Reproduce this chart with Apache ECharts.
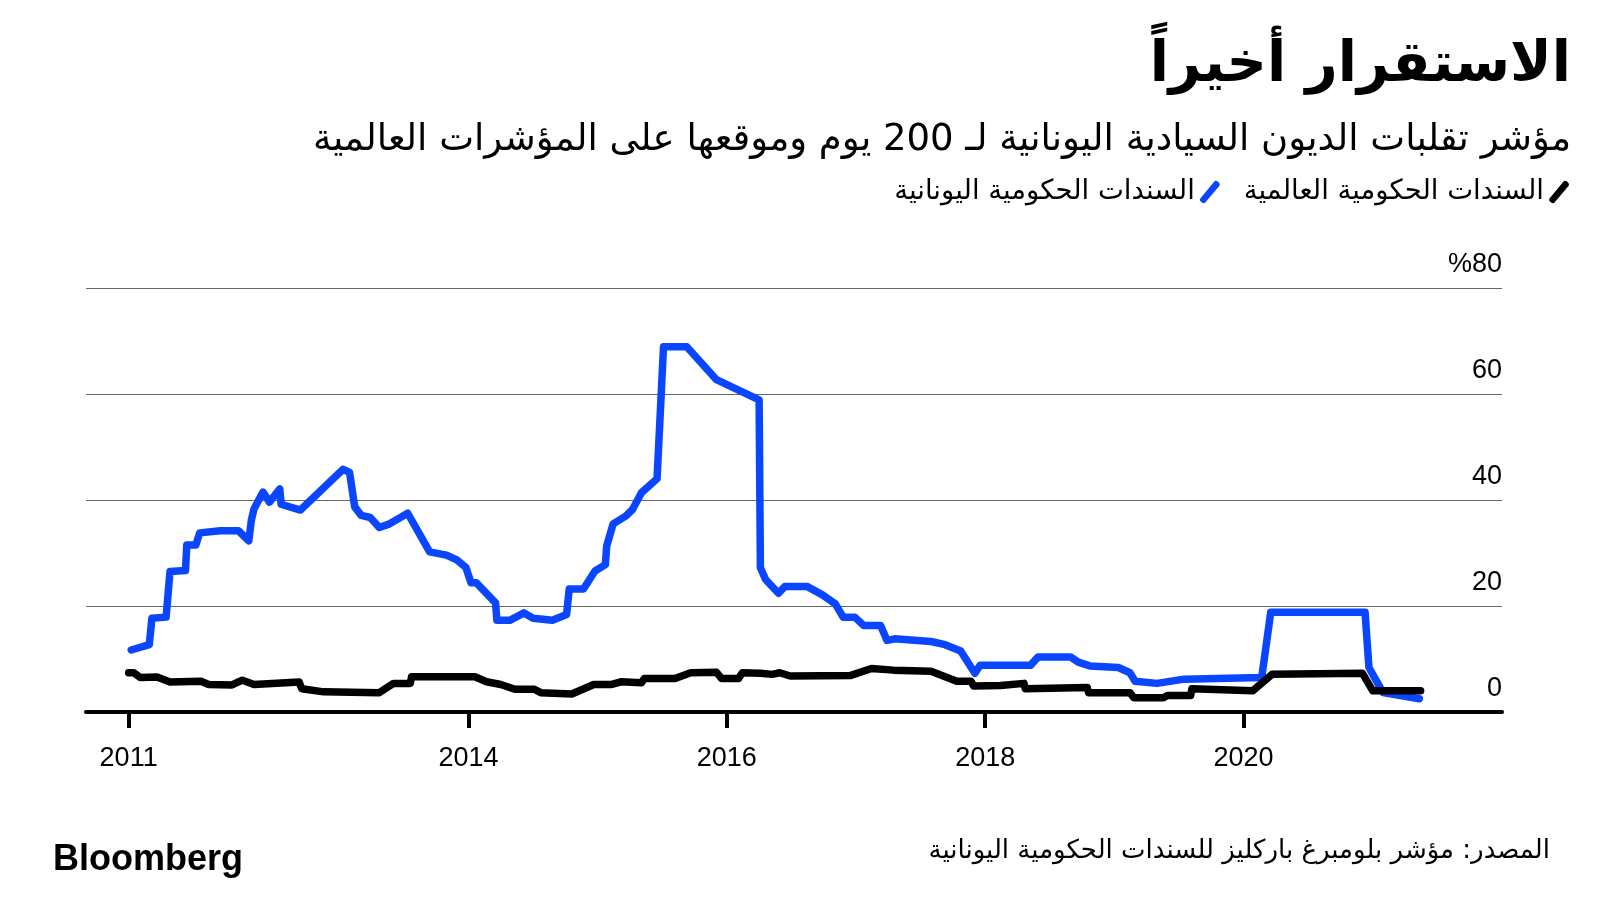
<!DOCTYPE html>
<html>
<head>
<meta charset="utf-8">
<script src="https://cdn.jsdelivr.net/npm/echarts@6/dist/echarts.min.js"></script>
<style>
html,body{margin:0;padding:0;background:#fff;}
#chart{width:1600px;height:900px;}
</style>
</head>
<body>
<div id="chart"></div>
<script>
// ---- Data ----
const titleText = 'الاستقرار أخيراً';
const subtitleText = 'مؤشر تقلبات الديون السيادية اليونانية لـ 200 يوم وموقعها على المؤشرات العالمية';
const seriesNames = ['السندات الحكومية اليونانية', 'السندات الحكومية العالمية'];
const sourceText = 'المصدر: مؤشر بلومبرغ باركليز للسندات الحكومية اليونانية';
const brandText = 'Bloomberg';

const xTickValues = [2011.37, 2014, 2016, 2018, 2020];
const xTickLabels = ['2011', '2014', '2016', '2018', '2020'];
const yTickValues = [0, 20, 40, 60, 80];
const yTickLabels = ['0', '20', '40', '60', '%80'];

// Greek government bonds, 200-day volatility (%)
const greekVol = [
  [2011.39,11.7],[2011.53,12.7],[2011.55,17.7],[2011.66,17.9],[2011.69,26.5],[2011.81,26.7],
  [2011.82,31.5],[2011.89,31.5],[2011.92,33.8],[2012.08,34.2],[2012.22,34.2],[2012.30,32.3],
  [2012.32,36.2],[2012.34,38.3],[2012.41,41.5],[2012.46,39.6],[2012.54,42.1],[2012.55,39.2],
  [2012.70,38.1],[2013.03,45.8],[2013.08,45.2],[2013.12,38.7],[2013.17,37.1],[2013.24,36.7],
  [2013.31,34.8],[2013.38,35.4],[2013.53,37.5],[2013.70,30.2],[2013.83,29.6],[2013.91,28.7],
  [2013.98,27.3],[2014.02,24.4],[2014.06,24.4],[2014.21,20.6],[2014.22,17.3],[2014.32,17.3],
  [2014.43,18.7],[2014.50,17.7],[2014.65,17.3],[2014.76,18.4],[2014.78,23.2],[2014.89,23.2],
  [2014.98,26.6],[2015.06,27.8],[2015.07,31.3],[2015.12,35.5],[2015.22,37.0],[2015.27,38.2],
  [2015.34,41.4],[2015.46,44.0],[2015.51,68.9],[2015.69,68.9],[2015.92,62.7],[2016.25,58.9],
  [2016.26,27.2],[2016.30,25.0],[2016.40,22.4],[2016.45,23.7],[2016.62,23.7],[2016.74,22.1],
  [2016.84,20.4],[2016.90,17.9],[2016.99,17.9],[2017.06,16.3],[2017.19,16.3],[2017.24,13.5],
  [2017.30,13.8],[2017.58,13.3],[2017.69,12.7],[2017.81,11.5],[2017.92,7.3],[2017.96,8.8],
  [2018.35,8.8],[2018.41,10.4],[2018.66,10.4],[2018.72,9.4],[2018.81,8.7],[2019.03,8.4],
  [2019.12,7.4],[2019.16,5.8],[2019.33,5.4],[2019.54,6.2],[2020.14,6.5],[2020.21,18.8],
  [2020.94,18.8],[2020.97,8.4],[2021.02,6.2],[2021.08,3.65],[2021.36,2.5]
];

// Global government bonds, 200-day volatility (%)
const globalVol = [
  [2011.37,7.4],[2011.41,7.4],[2011.46,6.5],[2011.59,6.6],[2011.69,5.65],[2011.93,5.8],
  [2011.99,5.2],[2012.17,5.1],[2012.25,6.0],[2012.34,5.2],[2012.69,5.65],[2012.71,4.4],
  [2012.88,3.8],[2013.31,3.65],[2013.42,5.4],[2013.55,5.4],[2013.56,6.65],[2014.05,6.65],
  [2014.14,5.7],[2014.25,5.2],[2014.36,4.3],[2014.51,4.3],[2014.56,3.65],[2014.80,3.4],
  [2014.97,5.2],[2015.11,5.2],[2015.18,5.7],[2015.34,5.5],[2015.36,6.3],[2015.60,6.3],
  [2015.72,7.4],[2015.92,7.5],[2015.96,6.3],[2016.09,6.3],[2016.12,7.4],[2016.26,7.3],
  [2016.35,7.1],[2016.41,7.4],[2016.49,6.8],[2016.96,6.9],[2017.12,8.2],[2017.29,7.9],
  [2017.58,7.7],[2017.78,5.8],[2017.89,5.8],[2017.91,4.9],[2018.12,5.0],[2018.30,5.4],
  [2018.31,4.4],[2018.79,4.6],[2018.80,3.65],[2019.12,3.65],[2019.15,2.7],[2019.38,2.7],
  [2019.41,3.1],[2019.59,3.1],[2019.60,4.4],[2020.07,4.0],[2020.22,7.1],[2020.92,7.3],
  [2021.00,4.0],[2021.37,4.0]
];

// ---- Chart ----
const FONT = '"Liberation Sans", "DejaVu Sans", sans-serif';
const AR_FONT = '"DejaVu Sans", sans-serif';
const slashIcon = 'path://M0,19 L14,2 Q15.5,0.5 17.5,2 L19,3.5 Q20,5 19,6.5 L5,23 Q3.5,24.5 1.5,23 L0,21.5 Q-1,20 0,19 Z';

const chart = echarts.init(document.getElementById('chart'), null, {renderer: 'canvas'});

function nearestLabel(v, vals, labels) {
  let best = 0;
  for (let i = 1; i < vals.length; i++) {
    if (Math.abs(vals[i] - v) < Math.abs(vals[best] - v)) best = i;
  }
  return labels[best];
}

chart.setOption({
  backgroundColor: '#ffffff',
  animation: false,
  grid: {left: 86, right: 98, top: 288, bottom: 188, containLabel: false},
  legend: {
    data: seriesNames,
    icon: slashIcon,
    right: 26,
    top: 173,
    align: 'right',
    itemWidth: 20,
    itemHeight: 24,
    itemGap: 24,
    textStyle: {fontFamily: AR_FONT, fontSize: 27.5, color: '#000'},
    selectedMode: false
  },
  xAxis: {
    type: 'value',
    min: 2011.04,
    max: 2022.0,
    splitLine: {show: false},
    axisLine: {show: true, lineStyle: {color: '#000', width: 4}},
    axisTick: {show: true, customValues: xTickValues, length: 16, lineStyle: {color: '#000', width: 4}},
    axisLabel: {
      customValues: xTickValues,
      formatter: v => nearestLabel(v, xTickValues, xTickLabels),
      fontFamily: FONT, fontSize: 27, color: '#000', margin: 33
    }
  },
  yAxis: {
    type: 'value',
    position: 'right',
    min: 0, max: 80, interval: 20,
    axisLine: {show: false},
    axisTick: {show: false},
    splitLine: {show: true, lineStyle: {color: '#666', width: 1.2}},
    axisLabel: {
      inside: true,
      margin: 0,
      verticalAlign: 'bottom',
      lineHeight: 27,
      padding: [0, 0, 10, 0],
      formatter: v => nearestLabel(v, yTickValues, yTickLabels),
      fontFamily: FONT, fontSize: 27, color: '#000'
    }
  },
  series: [
    {
      name: seriesNames[0],
      type: 'line',
      data: greekVol,
      showSymbol: false,
      symbol: 'none',
      lineStyle: {color: '#0a45ff', width: 7.5, join: 'round', cap: 'round'},
      itemStyle: {color: '#0a45ff'},
      z: 2
    },
    {
      name: seriesNames[1],
      type: 'line',
      data: globalVol,
      showSymbol: false,
      symbol: 'none',
      lineStyle: {color: '#000', width: 7.5, join: 'round', cap: 'round'},
      itemStyle: {color: '#000'},
      z: 3
    }
  ],
  graphic: [
    {type: 'text', right: 29, top: 38, style: {text: titleText, font: 'bold 56px ' + AR_FONT, fill: '#000'}},
    {type: 'text', right: 29, top: 122, style: {text: subtitleText, font: '37px ' + AR_FONT, fill: '#000'}},
    {type: 'text', right: 50, top: 838, style: {text: sourceText, font: '26px ' + AR_FONT, fill: '#000'}},
    {type: 'text', left: 53, top: 842, style: {text: brandText, font: 'bold 36px ' + FONT, fill: '#000'}}
  ]
});
</script>
</body>
</html>
